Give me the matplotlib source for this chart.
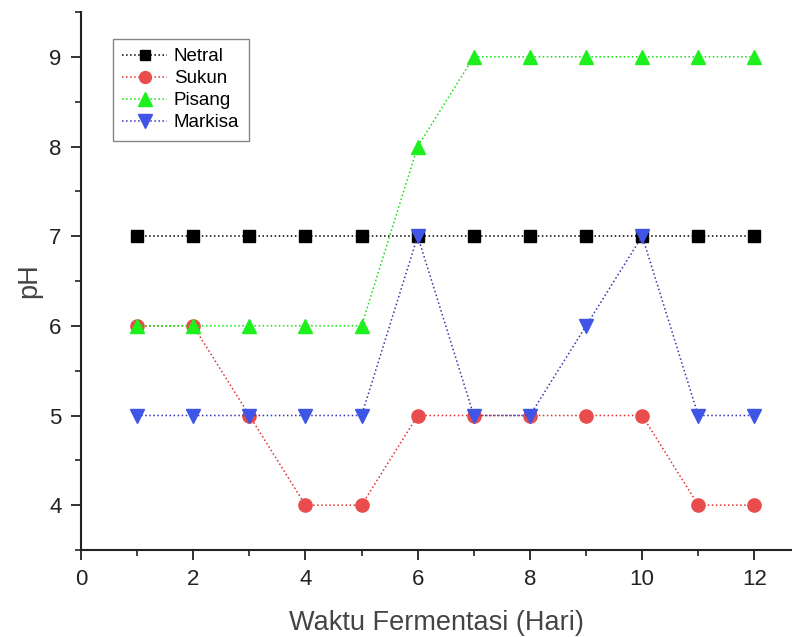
import matplotlib
matplotlib.use("Agg")
import matplotlib.pyplot as plt
from matplotlib.ticker import MultipleLocator

plt.rcParams['font.family'] = ['Liberation Sans', 'DejaVu Sans']

days = [1, 2, 3, 4, 5, 6, 7, 8, 9, 10, 11, 12]
netral = [7, 7, 7, 7, 7, 7, 7, 7, 7, 7, 7, 7]
sukun = [6, 6, 5, 4, 4, 5, 5, 5, 5, 5, 4, 4]
pisang = [6, 6, 6, 6, 6, 8, 9, 9, 9, 9, 9, 9]
markisa = [5, 5, 5, 5, 5, 7, 5, 5, 6, 7, 5, 5]

fig = plt.figure(figsize=(7.92, 6.37), dpi=100)
ax = fig.add_axes([81 / 792, 1 - 550 / 637, 1 - 81 / 792, (550 - 12) / 637])

series = [
    ("Netral", netral, "#000000", "#000000", "s", 8.5),
    ("Sukun", sukun, "#e84c4c", "#e0302f", "o", 9.5),
    ("Pisang", pisang, "#1ef01e", "#10e010", "^", 10.5),
    ("Markisa", markisa, "#3f55e6", "#3535b5", "v", 10.5),
]
for name, vals, mcol, lcol, mk, ms in series:
    ax.plot(days, vals, linestyle=":", color=lcol, linewidth=1.1,
            marker=mk, markersize=ms, markerfacecolor=mcol,
            markeredgecolor=mcol, label=name)

ax.set_xlim(0, 12.67)
ax.set_ylim(3.5, 9.5)
ax.xaxis.set_major_locator(MultipleLocator(2))
ax.xaxis.set_minor_locator(MultipleLocator(1))
ax.yaxis.set_major_locator(MultipleLocator(1))
ax.yaxis.set_minor_locator(MultipleLocator(0.5))
ax.set_yticks([4, 5, 6, 7, 8, 9])

for s in ("top", "right"):
    ax.spines[s].set_visible(False)
for s in ("left", "bottom"):
    ax.spines[s].set_linewidth(1.5)
    ax.spines[s].set_color("#222222")

ax.tick_params(which="major", direction="out", length=7, width=1.3,
               labelsize=16, colors="#222222", pad=7)
ax.tick_params(which="minor", direction="out", length=4, width=1.2,
               colors="#222222")

ax.set_xlabel("Waktu Fermentasi (Hari)", fontsize=19.5, color="#444444", labelpad=14)
ax.set_ylabel("pH", fontsize=19.5, color="#444444", labelpad=5)

leg = ax.legend(loc="upper left", bbox_to_anchor=(0.045, 0.95), fontsize=13.5,
                frameon=True, fancybox=False, handlelength=2.4,
                handletextpad=0.35, borderpad=0.5, labelspacing=0.26,
                markerscale=0.9, borderaxespad=0)
leg.get_frame().set_edgecolor("#666666")
leg.get_frame().set_linewidth(1.0)

fig.savefig("out.png", dpi=100)
